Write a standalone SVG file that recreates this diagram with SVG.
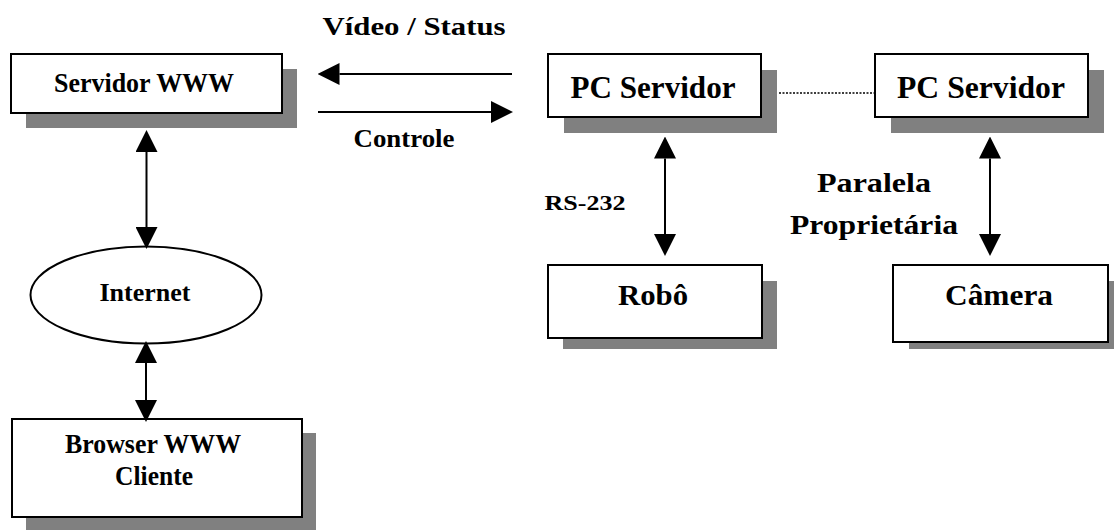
<svg xmlns="http://www.w3.org/2000/svg" width="1114" height="530" viewBox="0 0 1114 530">
  <style>
    .box { fill: #ffffff; stroke: #000000; stroke-width: 2; }
    .shadow { fill: #808080; stroke: none; }
    .lbl { font-family: "Liberation Serif", "Times New Roman", serif; font-weight: bold; fill: #000000; text-anchor: middle; }
    .conn { stroke: #000000; stroke-width: 2; fill: none; }
  </style>
  <defs>
    <marker id="ah" markerUnits="userSpaceOnUse" markerWidth="22" markerHeight="22" refX="0" refY="10" orient="auto-start-reverse" viewBox="0 0 20 20">
      <path d="M0,0 L20,10 L0,20 z" fill="#000000"/>
    </marker>
  </defs>
  <rect width="1114" height="530" fill="#ffffff"/>

  <g id="servidor-www">
    <rect class="shadow" x="26" y="69" width="271" height="59"/>
    <rect class="box" x="11" y="54" width="271" height="59"/>
    <text class="lbl" x="144" y="92" font-size="28" textLength="180" lengthAdjust="spacingAndGlyphs">Servidor WWW</text>
  </g>

  <g id="pc-servidor-1">
    <rect class="shadow" x="564" y="70" width="213" height="63"/>
    <rect class="box" x="548" y="54" width="213" height="63"/>
    <text class="lbl" x="653" y="98" font-size="32" textLength="165" lengthAdjust="spacingAndGlyphs">PC Servidor</text>
  </g>

  <g id="pc-servidor-2">
    <rect class="shadow" x="891" y="70" width="213" height="63"/>
    <rect class="box" x="875" y="54" width="213" height="63"/>
    <text class="lbl" x="981" y="98" font-size="32" textLength="168" lengthAdjust="spacingAndGlyphs">PC Servidor</text>
  </g>

  <g id="robo">
    <rect class="shadow" x="563" y="281" width="214" height="68"/>
    <rect class="box" x="548" y="265" width="214" height="73"/>
    <text class="lbl" x="653" y="305" font-size="30" textLength="70" lengthAdjust="spacingAndGlyphs">Robô</text>
  </g>

  <g id="camera">
    <rect class="shadow" x="909" y="281" width="215" height="68"/>
    <rect class="box" x="893" y="265" width="215" height="77"/>
    <text class="lbl" x="999" y="305" font-size="30" textLength="108" lengthAdjust="spacingAndGlyphs">Câmera</text>
  </g>

  <g id="internet">
    <ellipse class="box" cx="146" cy="295" rx="115.5" ry="48.5"/>
    <text class="lbl" x="145" y="301" font-size="26" textLength="91" lengthAdjust="spacingAndGlyphs">Internet</text>
  </g>

  <g id="browser-www">
    <rect class="shadow" x="26" y="433" width="290" height="98"/>
    <rect class="box" x="12" y="419" width="290" height="98"/>
    <text class="lbl" x="153" y="453" font-size="27" textLength="176" lengthAdjust="spacingAndGlyphs">Browser WWW</text>
    <text class="lbl" x="154" y="485" font-size="27" textLength="78" lengthAdjust="spacingAndGlyphs">Cliente</text>
  </g>

  <g id="connectors">
    <line class="conn" x1="146.5" y1="152" x2="146.5" y2="227" marker-start="url(#ah)" marker-end="url(#ah)"/>
    <line class="conn" x1="146" y1="363" x2="146" y2="400" marker-start="url(#ah)" marker-end="url(#ah)"/>
    <line class="conn" x1="512" y1="74" x2="339.5" y2="74" marker-end="url(#ah)"/>
    <line class="conn" x1="318" y1="112" x2="491" y2="112" marker-end="url(#ah)"/>
    <line class="conn" x1="665" y1="158.5" x2="665" y2="234" marker-start="url(#ah)" marker-end="url(#ah)"/>
    <line class="conn" x1="990" y1="158.5" x2="990" y2="234" marker-start="url(#ah)" marker-end="url(#ah)"/>
    <line x1="779" y1="93" x2="874" y2="93" stroke="#000000" stroke-width="1.5" stroke-dasharray="2 1.5"/>
  </g>

  <g id="labels">
    <text class="lbl" x="414" y="35" font-size="26" textLength="183" lengthAdjust="spacingAndGlyphs">Vídeo / Status</text>
    <text class="lbl" x="404" y="147" font-size="25" textLength="101" lengthAdjust="spacingAndGlyphs">Controle</text>
    <text class="lbl" x="585" y="210" font-size="21" textLength="81" lengthAdjust="spacingAndGlyphs">RS-232</text>
    <text class="lbl" x="874" y="192" font-size="27" textLength="114" lengthAdjust="spacingAndGlyphs">Paralela</text>
    <text class="lbl" x="874" y="234" font-size="27" textLength="168" lengthAdjust="spacingAndGlyphs">Proprietária</text>
  </g>
</svg>
